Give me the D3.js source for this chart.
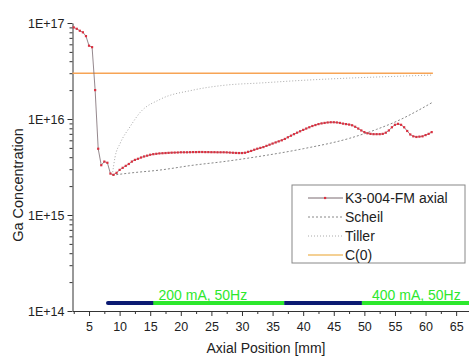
<!DOCTYPE html>
<html>
<head>
<meta charset="utf-8">
<style>
    body { margin: 0; background: white; }
    svg { display: block; font-family: "Liberation Sans", Arial, sans-serif; }
    .axis path, .axis line { stroke: #333; stroke-width: 1; }
    .axis text { fill: #222; font-size: 12.5px; }
</style>
</head>
<body>
<script src="https://cdn.jsdelivr.net/npm/d3@7"></script>
<script>
    // measured concentration, units of 1e15
    var posK3 = [2.5, 3, 3.5, 4, 4.5, 5, 5.5, 6, 6.5, 7, 7.5, 8, 8.5, 9, 9.5, 10, 10.5, 11, 11.5, 12,
        12.5, 13, 13.5, 14, 14.5, 15, 15.5, 16, 16.5, 17, 17.5, 18, 18.5, 19, 19.5, 20, 20.5, 21, 21.5, 22,
        22.5, 23, 23.5, 24, 24.5, 25, 25.5, 26, 26.5, 27, 27.5, 28, 28.5, 29, 29.5, 30, 30.5, 31, 31.5, 32,
        32.5, 33, 33.5, 34, 34.5, 35, 35.5, 36, 36.5, 37, 37.5, 38, 38.5, 39, 39.5, 40, 40.5, 41, 41.5, 42,
        42.5, 43, 43.5, 44, 44.5, 45, 45.5, 46, 46.5, 47, 47.5, 48, 48.5, 49, 49.5, 50, 50.5, 51, 51.5, 52,
        52.5, 53, 53.5, 54, 54.5, 55, 55.5, 56, 56.5, 57, 57.5, 58, 58.5, 59, 59.5, 60, 60.5, 61];
    var concK3 = [90, 87, 83, 80, 73, 58, 56, 20, 4.9, 3.3, 3.6, 3.5, 2.7, 2.62, 2.75, 2.95, 3.1, 3.25, 3.4, 3.6,
        3.75, 3.85, 3.97, 4.07, 4.15, 4.24, 4.3, 4.34, 4.38, 4.4, 4.42, 4.44, 4.46, 4.47, 4.48, 4.5, 4.5, 4.5, 4.51, 4.52,
        4.52, 4.53, 4.53, 4.52, 4.52, 4.51, 4.51, 4.5, 4.5, 4.5, 4.49, 4.47, 4.45, 4.43, 4.42, 4.42, 4.45, 4.55, 4.65, 4.78,
        4.9, 5.0, 5.1, 5.25, 5.4, 5.55, 5.7, 5.85, 6.0, 6.2, 6.45, 6.7, 6.95, 7.2, 7.45, 7.7, 7.95, 8.2, 8.45, 8.65,
        8.85, 9.0, 9.1, 9.2, 9.25, 9.25, 9.2, 9.1, 8.95, 8.85, 8.75, 8.6, 8.3, 7.95, 7.6, 7.3, 7.1, 7.0, 6.95, 6.95,
        6.95, 7.0, 7.2, 7.6, 8.2, 8.7, 8.9, 8.7, 8.2, 7.5, 6.9, 6.6, 6.5, 6.55, 6.6, 6.8, 7.0, 7.3];

    var posScheil = [8.8, 12, 16.6, 22, 27, 32, 40, 47.6, 52, 55.8, 59, 61.2];
    var concScheil = [2.6, 2.75, 2.94, 3.3, 3.6, 4.0, 4.9, 6.3, 7.8, 9.8, 12.5, 15];

    var posTiller = [8.8, 9.25, 10.1, 11.7, 13.3, 16.6, 22, 27.5, 32.9, 40, 47.6, 55, 61.2];
    var concTiller = [2.6, 4.0, 5.6, 8.3, 11.6, 16, 20, 22.6, 23.7, 25.3, 26.7, 27.8, 28.7];

    var c0 = 30;           // C(0), units of 1e15
    var c0Range = [2.3, 61.2];

    // current regimes shown along the bottom
    var barStarts = [8.1, 15.5, 36.9, 49.6];
    var barEnds = [15.5, 36.9, 49.6, 67.1];
    var barColors = ["#0b1a72", "#2de82d", "#0b1a72", "#2de82d"];
    var barLabels = ["", "200 mA, 50Hz", "", "400 mA, 50Hz"];
    var barLabelX = [0, 23.6, 0, 58.5];
    var barLevel = 1.21e14;

    var xMajor = [5, 10, 15, 20, 25, 30, 35, 40, 45, 50, 55, 60, 65];
    var xMinor = [2.5, 7.5, 12.5, 17.5, 22.5, 27.5, 32.5, 37.5, 42.5, 47.5, 52.5, 57.5, 62.5];
    var yMajor = [1e14, 1e15, 1e16, 1e17];
    var yMajorLabels = ["1E+14", "1E+15", "1E+16", "1E+17"];

    var legendNames = ["K3-004-FM axial", "Scheil", "Tiller", "C(0)"];

    var width = 469, height = 356;
    var plotLeft = 72.5, plotRight = 469, plotTop = 23, plotBottom = 311;

    var svg = d3.select("body").append("svg")
            .attr("width", width)
            .attr("height", height);

    var x = d3.scaleLinear().domain([2.3, 67.1]).range([plotLeft, plotRight]);
    var y = d3.scaleLog().domain([1e14, 1e17]).range([plotBottom, plotTop]);

    var yMinor = [];
    [1e14, 1e15, 1e16].forEach(function (d) {
        for (var k = 2; k <= 9; k++) yMinor.push(d * k);
    });

    // axes
    svg.append("g").attr("class", "axis")
            .attr("transform", "translate(0," + plotBottom + ")")
            .call(d3.axisBottom(x).tickValues(xMinor).tickSize(3).tickFormat(""))
            .select(".domain").remove();
    svg.append("g").attr("class", "axis")
            .attr("transform", "translate(0," + plotBottom + ")")
            .call(d3.axisBottom(x).tickValues(xMajor).tickSize(5).tickSizeOuter(0).tickPadding(6));

    svg.append("g").attr("class", "axis")
            .attr("transform", "translate(" + plotLeft + ",0)")
            .call(d3.axisLeft(y).tickValues(yMinor).tickSize(3).tickFormat(""))
            .select(".domain").remove();
    svg.append("g").attr("class", "axis")
            .attr("transform", "translate(" + plotLeft + ",0)")
            .call(d3.axisLeft(y).tickValues(yMajor).tickSize(5).tickSizeOuter(0).tickPadding(3)
                    .tickFormat(function (d, i) { return yMajorLabels[i]; }));

    svg.append("text")
            .attr("x", 266).attr("y", 353)
            .attr("text-anchor", "middle")
            .style("font-size", "14px").style("fill", "#222")
            .text("Axial Position [mm]");
    svg.append("text")
            .attr("transform", "translate(23,185) rotate(-90)")
            .attr("text-anchor", "middle")
            .style("font-size", "14.5px").style("fill", "#222")
            .text("Ga Concentration");

    // C(0)
    svg.append("line")
            .attr("x1", x(c0Range[0])).attr("x2", x(c0Range[1]))
            .attr("y1", y(c0 * 1e15)).attr("y2", y(c0 * 1e15))
            .style("stroke", "#f7a455").style("stroke-width", 1.5);

    var curve = d3.line().curve(d3.curveMonotoneX)
            .x(function (d) { return x(d[0]); })
            .y(function (d) { return y(d[1] * 1e15); });

    svg.append("path")
            .datum(d3.zip(posTiller, concTiller))
            .attr("d", curve)
            .style("fill", "none").style("stroke", "#aaa")
            .style("stroke-width", 1).style("stroke-dasharray", "1,2");

    svg.append("path")
            .datum(d3.zip(posScheil, concScheil))
            .attr("d", curve)
            .style("fill", "none").style("stroke", "#888")
            .style("stroke-width", 1).style("stroke-dasharray", "2,2");

    var k3 = d3.zip(posK3, concK3);
    svg.append("path")
            .datum(k3)
            .attr("d", d3.line()
                    .x(function (d) { return x(d[0]); })
                    .y(function (d) { return y(d[1] * 1e15); }))
            .style("fill", "none").style("stroke", "#7a6a70").style("stroke-width", 0.8);

    svg.selectAll(".k3pt")
            .data(k3)
            .enter().append("rect")
            .classed("k3pt", 1)
            .attr("x", function (d) { return x(d[0]) - 1.1; })
            .attr("y", function (d) { return y(d[1] * 1e15) - 1.1; })
            .attr("width", 2.2).attr("height", 2.2)
            .style("fill", "#dc3040");

    // current bar
    var bars = d3.range(barStarts.length);
    svg.selectAll(".cbar")
            .data(bars)
            .enter().append("line")
            .classed("cbar", 1)
            .attr("x1", function (i) { return x(barStarts[i]); })
            .attr("x2", function (i) { return x(barEnds[i]); })
            .attr("y1", y(barLevel)).attr("y2", y(barLevel))
            .style("stroke", function (i) { return barColors[i]; })
            .style("stroke-width", 4)
            .style("stroke-linecap", function (i) { return i === 0 ? "round" : "butt"; });

    svg.selectAll(".clabel")
            .data(bars.filter(function (i) { return barLabels[i]; }))
            .enter().append("text")
            .classed("clabel", 1)
            .attr("x", function (i) { return x(barLabelX[i]); })
            .attr("y", y(barLevel) - 3)
            .attr("text-anchor", "middle")
            .style("font-size", "14px").style("fill", "#2de82d")
            .text(function (i) { return barLabels[i]; });

    // legend
    var lg = svg.append("g").attr("transform", "translate(292,185)");
    lg.append("rect")
            .attr("width", 173).attr("height", 78)
            .style("fill", "white").style("stroke", "#888").style("stroke-width", 1);
    var rows = lg.selectAll(".row")
            .data(legendNames)
            .enter().append("g")
            .attr("transform", function (d, i) { return "translate(0," + (13 + i * 19) + ")"; });
    rows.append("line")
            .attr("x1", 16).attr("x2", 51).attr("y1", 0).attr("y2", 0)
            .style("stroke", function (d, i) { return ["#7a6a70", "#888", "#aaa", "#f0c070"][i]; })
            .style("stroke-width", function (d, i) { return i === 3 ? 1.5 : 1; })
            .style("stroke-dasharray", function (d, i) { return ["none", "2,2", "1,2", "none"][i]; });
    rows.filter(function (d, i) { return i === 0; })
            .append("rect")
            .attr("x", 32).attr("y", -1.1).attr("width", 2.2).attr("height", 2.2)
            .style("fill", "#dc3040");
    rows.append("text")
            .attr("x", 53).attr("y", 5)
            .style("font-size", "14px").style("fill", "#222")
            .text(function (d) { return d; });
</script>
</body>
</html>
